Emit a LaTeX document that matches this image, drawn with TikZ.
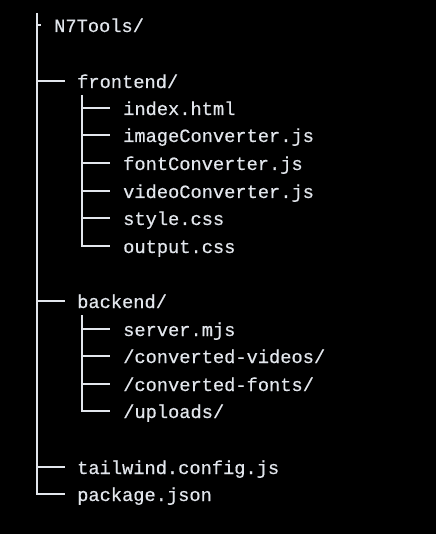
\documentclass[tikz,border=0pt]{standalone}
\usepackage{fontspec}
\newfontfamily\termfont[FakeBold=0.5]{Liberation Mono}
\definecolor{termfg}{RGB}{226,230,236}

\begin{document}
\begin{tikzpicture}[x=1pt,y=-1pt,
  entry/.style={anchor=west,inner sep=0pt,text height=14pt,text depth=0pt,
    text=termfg,font=\termfont\fontsize{18.7}{22}\selectfont},
  branch/.style={draw=termfg,line width=2pt}]
\fill[black] (0,0) rectangle (436,534);

% one row per line of the listing, about 27.6 apart
\node[entry] (root)       at (54,25)  {N7Tools/};
\node[entry] (frontend)   at (77,81)  {frontend/};
\node[entry] (index)      at (123,108) {index.html};
\node[entry] (imgconv)    at (123,135) {imageConverter.js};
\node[entry] (fontconv)   at (123,163) {fontConverter.js};
\node[entry] (vidconv)    at (123,191) {videoConverter.js};
\node[entry] (stylecss)   at (123,218) {style.css};
\node[entry] (outputcss)  at (123,246) {output.css};
\node[entry] (backend)    at (77,301) {backend/};
\node[entry] (server)     at (123,329) {server.mjs};
\node[entry] (convvideos) at (123,356) {/converted-videos/};
\node[entry] (convfonts)  at (123,384) {/converted-fonts/};
\node[entry] (uploads)    at (123,411) {/uploads/};
\node[entry] (tailwind)   at (77,467) {tailwind.config.js};
\node[entry] (pkgjson)    at (77,494) {package.json};

% trunk
\coordinate (top) at (37,13);
\draw[branch] (top) -- (top|-pkgjson.west) -- ([xshift=-12pt]pkgjson.west);
\draw[branch] (top|-root.west) -- ([xshift=-13pt]root.west);
\draw[branch] (top|-frontend.west) -- ([xshift=-12pt]frontend.west);
\draw[branch] (top|-backend.west) -- ([xshift=-12pt]backend.west);
\draw[branch] (top|-tailwind.west) -- ([xshift=-12pt]tailwind.west);

% frontend/
\coordinate (fe) at (82,95);
\draw[branch] (fe) -- (fe|-outputcss.west) -- ([xshift=-13pt]outputcss.west);
\foreach \f in {index,imgconv,fontconv,vidconv,stylecss}
  \draw[branch] (fe|-\f.west) -- ([xshift=-13pt]\f.west);

% backend/
\coordinate (be) at (82,315);
\draw[branch] (be) -- (be|-uploads.west) -- ([xshift=-13pt]uploads.west);
\foreach \f in {server,convvideos,convfonts}
  \draw[branch] (be|-\f.west) -- ([xshift=-13pt]\f.west);
\end{tikzpicture}
\end{document}
